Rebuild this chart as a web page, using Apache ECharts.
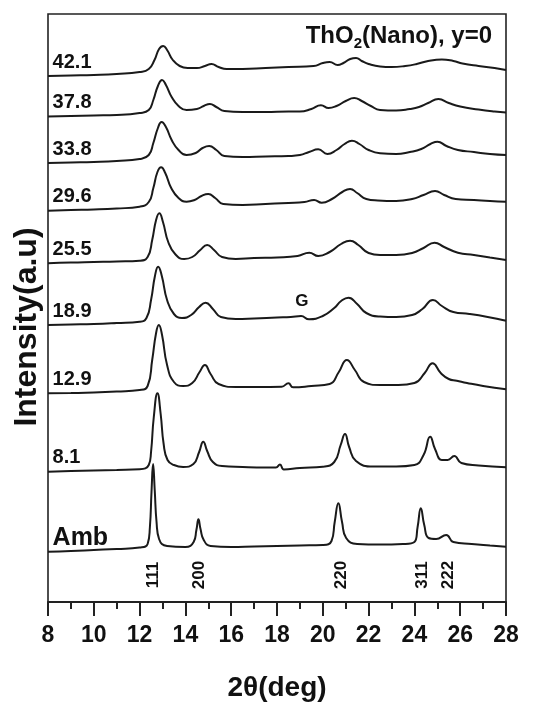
<!DOCTYPE html>
<html>
<head>
<meta charset="utf-8">
<script src="https://cdn.jsdelivr.net/npm/echarts@6/dist/echarts.min.js"></script>
<style>
html,body{margin:0;padding:0;background:#fff;}
#c{width:554px;height:709px;}
</style>
</head>
<body>
<div id="c"></div>
<script>
// Stacked XRD patterns: [2theta (deg), stacked intensity (a.u.)]
const names = ['Amb','8.1','12.9','18.9','25.5','29.6','33.8','37.8','42.1'];

const amb = [[8,50.3],[9,51],[10,52],[11,53],[12,54.5],[12.35,58],[12.45,75],[12.52,110],[12.59,138],[12.66,112],[12.74,80],[12.85,63],[13.2,56],[14,55],[14.36,60],[14.48,72],[14.57,82.7],[14.66,73],[14.8,62],[15.1,56],[16,55],[17,55.5],[18,56],[19,56.5],[20,57],[20.38,61],[20.52,80],[20.68,98.7],[20.84,80],[21.02,64],[21.5,58],[22.5,57.5],[23.5,58],[24,60],[24.14,75],[24.28,93.7],[24.43,77],[24.62,64],[24.95,63],[25.39,67],[25.7,60],[26.5,58],[27.3,56.5],[28,55.3]];

const p8_1 = [[8,130.3],[9,131],[10,131.5],[11,132],[12,132.7],[12.4,137],[12.5,150],[12.62,185],[12.78,208.7],[12.92,188],[13.05,158],[13.22,142],[13.5,137],[13.9,135],[14.35,138],[14.6,150],[14.78,160.3],[14.95,151],[15.2,140],[15.6,136],[16.5,135],[17.5,134.5],[17.95,134.5],[18.13,137.5],[18.3,132.5],[19,134],[20,135.3],[20.5,140],[20.78,157],[20.97,168],[21.15,155],[21.45,141],[22.2,135.5],[23.2,135.5],[24,137],[24.4,147],[24.69,165.3],[24.9,153],[25.2,142],[25.45,142],[25.74,146],[26.05,139],[26.8,136.5],[28,134.7]];

const p12_9 = [[8,208.7],[9,209],[10,209.5],[11,210.5],[12,212],[12.35,216],[12.55,242],[12.72,269],[12.84,277],[12.98,267],[13.2,237],[13.5,220],[13.9,216],[14.3,219],[14.62,230],[14.85,237],[15.1,228],[15.45,218],[16.2,215],[17.2,215],[18.2,215.3],[18.5,218.7],[18.7,214.7],[19.5,216],[20.3,218],[20.7,230],[21.05,242],[21.4,232],[21.8,220],[22.5,217],[23.3,217],[24,219],[24.45,229],[24.79,238.7],[25.15,229],[25.5,223],[25.85,221.3],[26.3,219],[27,216],[28,212.7]];

const p18_9 = [[8,277],[9,277.5],[10,278],[11,279],[12,280.3],[12.3,284],[12.5,302],[12.67,326],[12.81,335.3],[12.97,326],[13.2,302],[13.5,288],[13.85,284],[14.25,287],[14.6,295],[14.88,299.3],[15.2,293],[15.55,285],[16.2,283],[17,283.5],[18,284.5],[18.6,285],[19.05,286],[19.4,282.7],[20,286],[20.5,294],[20.8,301],[21.12,304.3],[21.5,298],[21.9,289],[22.5,285.5],[23.2,285],[23.9,287],[24.35,293],[24.81,302],[25.2,296],[25.7,290],[26.4,288],[27.2,285],[28,281.3]];

const p25_5 = [[8,338.7],[9,339.5],[10,340],[11,340.5],[12,341.3],[12.35,345],[12.55,362],[12.72,382],[12.86,388.7],[13.02,380],[13.25,360],[13.55,348],[13.95,343],[14.3,345],[14.65,352],[14.95,357],[15.25,352],[15.6,345],[16.2,343],[17,344],[18,344.5],[18.9,346],[19.41,349.3],[19.8,346],[20.3,350],[20.8,358],[21.19,361.3],[21.55,357],[22,349],[22.5,347],[23.2,347],[23.9,349],[24.4,354],[24.88,359.3],[25.3,355],[25.9,349.3],[26.6,347],[27.3,344.5],[28,342]];

const p29_6 = [[8,391.3],[9,392],[10,392.5],[11,393.5],[12,395.3],[12.4,400],[12.6,414],[12.78,430],[12.94,434.7],[13.12,429],[13.38,414],[13.7,404],[14.05,400.3],[14.4,402],[14.7,406],[15,408],[15.3,404],[15.65,398],[16.5,397],[17.5,398],[18.5,399],[19.2,400],[19.62,402],[19.95,399.3],[20.4,403],[20.85,410],[21.19,413],[21.5,409],[21.9,403],[22.4,401.5],[23.2,401],[23.9,403],[24.4,407],[24.9,411],[25.3,407],[25.8,403],[26.6,402],[27.3,401],[28,400.3]];

const p33_8 = [[8,439],[9,439.5],[10,440],[11,441],[12,443],[12.4,447],[12.6,459],[12.8,474],[12.96,480],[13.15,475],[13.4,462],[13.7,452],[14.05,447],[14.45,449],[14.75,454],[15.04,456],[15.35,452],[15.7,446],[16.5,445],[17.5,445.5],[18.5,446],[19,447],[19.4,450],[19.8,452.7],[20.2,448],[20.6,452],[20.95,458],[21.27,461.3],[21.6,458],[22,452],[22.5,448.7],[23.2,448],[23.8,450],[24.3,453],[24.7,458],[25.01,460.3],[25.4,456],[25.9,452],[26.6,450],[27.3,448],[28,447]];

const p37_8 = [[8,485.5],[9,486],[10,486.5],[11,487],[12,489],[12.4,492],[12.6,502],[12.8,516],[12.98,522],[13.15,517],[13.4,505],[13.7,496],[14.05,492],[14.5,493],[14.8,496],[15.07,498],[15.35,495],[15.7,491],[16.5,490],[17.5,490],[18.5,490.5],[19,490.5],[19.5,493],[19.92,496.7],[20.25,494],[20.6,496],[21,501],[21.37,504],[21.7,501],[22.1,496],[22.5,492],[23.2,491.5],[23.8,493],[24.2,495],[24.6,499],[25.05,503],[25.5,499],[26,495.5],[26.8,492.5],[27.5,490.5],[28,489.5]];

const p42_1 = [[8,526],[9,526.5],[10,527],[11,528],[12,530],[12.4,533],[12.65,542],[12.85,553],[13.03,556],[13.2,552],[13.45,542],[13.75,536],[14.1,534],[14.5,534],[14.85,536],[15.14,538],[15.45,535],[15.8,533],[16.5,533],[17.5,534],[18.5,535],[19.6,536],[20,539],[20.3,540],[20.65,537],[20.9,539],[21.2,543],[21.45,544],[21.7,541],[22,538],[22.5,535.5],[23,535],[23.6,536],[24.1,538],[24.6,541],[25.2,542.5],[25.7,541],[26.1,538.5],[26.8,536],[27.5,534],[28,532]];

const curves = [amb, p8_1, p12_9, p18_9, p25_5, p29_6, p33_8, p37_8, p42_1];

// Reflection indices and their 2theta positions
const hklLabels = ['111','200','220','311','222'];
const hklTheta = [12.6, 14.6, 20.8, 24.35, 25.5];

// X tick labels
const xTicks = [8,10,12,14,16,18,20,22,24,26,28];

const FONT = 'Arial, "Liberation Sans", sans-serif';
const chart = echarts.init(document.getElementById('c'));

const series = curves.map((d, i) => ({
  name: names[i],
  type: 'line',
  data: d,
  smooth: 0.5,
  showSymbol: false,
  symbol: 'none',
  lineStyle: { color: '#1a1a1a', width: 2 },
  z: 3
}));

// curve labels at the left, above each baseline
series.push({
  type: 'scatter',
  symbolSize: 0,
  silent: true,
  itemStyle: { opacity: 1 },
  data: curves.map((d, i) => ({ value: [8.2, d[0][1] + 14], name: names[i],
    label: i === 0 ? { fontSize: 25 } : undefined })),
  label: {
    show: true, position: 'right', distance: 0,
    formatter: p => p.name,
    color: '#111', fontFamily: FONT, fontWeight: 'bold', fontSize: 20
  },
  z: 5
});

// G annotation on the 18.9 curve
const gIdx = p18_9.findIndex(p => p[0] === 19.05);
series.push({
  type: 'scatter', symbolSize: 0, silent: true, itemStyle: { opacity: 1 },
  data: [{ value: [19.09, p18_9[gIdx][1] + 15], name: 'G' }],
  label: { show: true, position: 'inside', formatter: 'G', color: '#111',
    fontFamily: FONT, fontWeight: 'bold', fontSize: 17 }
});

// hkl labels
series.push({
  type: 'scatter', symbolSize: 0, silent: true, itemStyle: { opacity: 1 },
  data: hklTheta.map((t, i) => ({ value: [t, 27], name: hklLabels[i] })),
  label: { show: true, position: 'inside', rotate: 90, formatter: p => p.name,
    color: '#111', fontFamily: FONT, fontWeight: 'bold', fontSize: 17 }
});

chart.setOption({
  animation: false,
  backgroundColor: '#fff',
  grid: { left: 48, right: 48, top: 14, bottom: 107, show: true,
    borderColor: '#222', borderWidth: 1.6, backgroundColor: 'transparent' },
  xAxis: {
    type: 'value', min: 8, max: 28, interval: 2,
    name: '2θ(deg)', nameLocation: 'middle', nameGap: 72,
    nameTextStyle: { fontFamily: FONT, fontWeight: 'bold', fontSize: 28, color: '#111' },
    axisLine: { show: true, onZero: false, lineStyle: { color: '#222', width: 2 } },
    axisTick: { show: true, inside: false, length: 14, lineStyle: { color: '#222', width: 2 } },
    minorTick: { show: true, splitNumber: 2, length: 7, lineStyle: { color: '#222', width: 2 } },
    axisLabel: { margin: 22, fontFamily: FONT, fontWeight: 'bold', fontSize: 23, color: '#111',
      formatter: v => xTicks.includes(v) ? String(v) : '' },
    splitLine: { show: false }, minorSplitLine: { show: false }
  },
  yAxis: {
    type: 'value', min: 0, max: 588,
    axisLine: { show: false }, axisTick: { show: false }, axisLabel: { show: false },
    splitLine: { show: false }
  },
  graphic: [
    { type: 'text', right: 62, top: 24,
      style: { text: '{a|ThO}{s|2}{a|(Nano), y=0}', fill: '#111',
        rich: {
          a: { fontFamily: FONT, fontWeight: 'bold', fontSize: 24, fill: '#111' },
          s: { fontFamily: FONT, fontWeight: 'bold', fontSize: 15, fill: '#111', padding: [16, 0, 0, 0] }
        } } },
    { type: 'text', x: 27, y: 327, rotation: Math.PI / 2,
      style: { text: 'Intensity(a.u)', fill: '#111', font: 'bold 32px ' + FONT,
        textAlign: 'center', textVerticalAlign: 'middle' } }
  ],
  series: series
});
</script>
</body>
</html>
